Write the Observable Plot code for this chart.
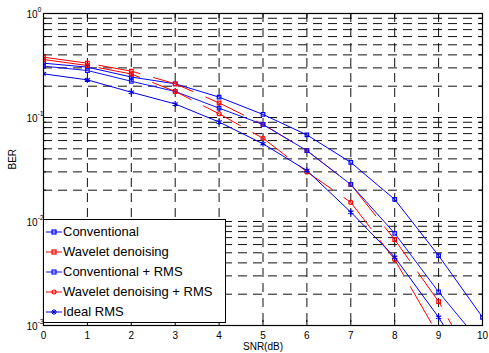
<!DOCTYPE html>
<html>
<head>
<meta charset="utf-8">
<script src="https://cdn.jsdelivr.net/npm/d3@7"></script>
<script src="https://cdn.jsdelivr.net/npm/@observablehq/plot@0.6"></script>
<style>
  html, body { margin: 0; padding: 0; background: white; }
  #wrap { position: relative; width: 489px; height: 353px; font-family: 'Liberation Sans', Arial, sans-serif; }
  #legend { position: absolute; left: 43px; top: 219px; width: 181px; height: 100px;
            border: 1.5px solid #000; background: #fff; padding-top: 2px; box-sizing: content-box; }
  .row { height: 20px; line-height: 20px; font-size: 13px; color: #000; white-space: nowrap; display: flex; align-items: center; }
  .row svg { margin-left: 2px; margin-right: 1px; flex: none; }
</style>
</head>
<body>
<div id="wrap"></div>
<script>
// ---- data ----
const snr = [0, 1, 2, 3, 4, 5, 6, 7, 8, 9, 10];
const conventional    = [0.333, 0.305, 0.245, 0.211, 0.157, 0.107, 0.068, 0.037, 0.0163, 0.0047, 0.0012];
const wavelet         = [0.380, 0.333, 0.279, 0.211, 0.138, 0.0857, 0.048, 0.0227, 0.0067, 0.0017, 0.0003];
const conventionalRMS = [0.312, 0.283, 0.223, 0.178, 0.123, 0.0857, 0.048, 0.0227, 0.0077, 0.0021, 0.00065];
const waveletRMS      = [0.361, 0.316, 0.262, 0.178, 0.1086, 0.0632, 0.030, 0.0153, 0.0043, 0.0008, 0.00012];
const idealRMS        = [0.263, 0.230, 0.175, 0.135, 0.0905, 0.0558, 0.0309, 0.0123, 0.00454, 0.0012, 0.00025];

const seriesNames = ["Conventional", "Wavelet denoising", "Conventional + RMS", "Wavelet denoising + RMS", "Ideal RMS"];
const xTicks = [0, 1, 2, 3, 4, 5, 6, 7, 8, 9, 10];
const yDecades = [1e-3, 1e-2, 1e-1, 1];
const xLabel = "SNR(dB)";
const yLabel = "BER";

// ---- styles ----
const seriesValues = [conventional, wavelet, conventionalRMS, waveletRMS, idealRMS];
const styles = [
  {color: "#0000ff", dash: null, symbol: "square", r: 2},
  {color: "#ff0000", dash: "42,14", symbol: "square", r: 2},
  {color: "#1010ff", dash: null, symbol: "square", r: 2},
  {color: "#ff0000", dash: "42,14", symbol: "circle", r: 2},
  {color: "#0000e0", dash: null, symbol: "asterisk", r: 2.8}
];

const rows = seriesValues.flatMap((vals, i) => snr.map((x, j) => ({series: seriesNames[i], snr: x, ber: vals[j]})));

const yMinor = [];
for (let e = -3; e < 0; e++) for (let k = 1; k <= 9; k++) yMinor.push(k * Math.pow(10, e));
yMinor.push(1);

const W = 489, H = 353, mL = 43, mR = 7, mT = 13, mB = 28;
const fw = W - mL - mR, fh = H - mT - mB;

const gridStyle = {stroke: "#111", strokeOpacity: 1, strokeWidth: 1, strokeDasharray: "9,6"};

const marks = [
  Plot.gridX(xTicks, gridStyle),
  Plot.gridY(yMinor, gridStyle),
  // inward ticks
  Plot.tickX(xTicks, {x: d => d, insetBottom: fh - 5, stroke: "#000"}),
  Plot.tickX(xTicks, {x: d => d, insetTop: fh - 5, stroke: "#000"}),
  Plot.tickY(yDecades, {y: d => d, insetRight: fw - 5, stroke: "#000"}),
  Plot.tickY(yDecades, {y: d => d, insetLeft: fw - 5, stroke: "#000"}),
  Plot.tickY(yMinor, {y: d => d, insetRight: fw - 3, stroke: "#000"}),
  Plot.tickY(yMinor, {y: d => d, insetLeft: fw - 3, stroke: "#000"}),
];

seriesNames.forEach((name, i) => {
  const st = styles[i];
  const data = rows.filter(d => d.series === name);
  marks.push(Plot.line(data, {x: "snr", y: "ber", stroke: st.color, strokeWidth: 1,
    strokeDasharray: st.dash || undefined, clip: true}));
  marks.push(Plot.dot(data, {x: "snr", y: "ber", stroke: st.color, strokeWidth: 1.2, fill: "none",
    symbol: st.symbol, r: st.r, clip: true}));
});

marks.push(
  Plot.frame({stroke: "#000", strokeWidth: 1.2}),
  // x tick labels
  Plot.text(xTicks, {x: d => d, frameAnchor: "bottom", dy: 10, text: d => String(d), lineAnchor: "middle", fontSize: 10, fill: "#000"}),
  // y tick labels: base and superscript exponent
  Plot.text(yDecades, {y: d => d, frameAnchor: "left", dx: -6, dy: 1, textAnchor: "end", text: () => "10", fontSize: 10, fill: "#000"}),
  Plot.text(yDecades, {y: d => d, frameAnchor: "left", dx: -6, dy: -4, textAnchor: "start",
    text: d => String(Math.round(Math.log10(d))), fontSize: 7, fill: "#000"}),
  // axis labels
  Plot.text([xLabel], {frameAnchor: "bottom", dy: 21, text: d => d, lineAnchor: "middle", fontSize: 10, fill: "#000"}),
  Plot.text([yLabel], {frameAnchor: "left", dx: -31, rotate: -90, text: d => d, lineAnchor: "middle", fontSize: 10, fill: "#000"})
);

const chart = Plot.plot({
  width: W, height: H,
  marginLeft: mL, marginRight: mR, marginTop: mT, marginBottom: mB,
  style: {fontFamily: "'Liberation Sans', Arial, sans-serif", fontSize: "10px", background: "white", color: "black"},
  x: {domain: [0, 10], axis: null},
  y: {type: "log", domain: [1e-3, 1], axis: null},
  marks
});

const wrap = document.getElementById("wrap");
wrap.appendChild(chart);

// ---- legend (HTML overlay) ----
const legend = document.createElement("div");
legend.id = "legend";
const symbolSvg = (st) => {
  const c = st.color;
  let m = "";
  if (st.symbol === "square") m = `<rect x="6" y="3" width="4" height="4" fill="none" stroke="${c}" stroke-width="1.2"/>`;
  else if (st.symbol === "circle") m = `<circle cx="8" cy="5" r="2" fill="none" stroke="${c}" stroke-width="1.2"/>`;
  else m = `<path d="M8,2V8M5,5H11M6,3L10,7M10,3L6,7" stroke="${c}" stroke-width="1"/>`;
  return `<svg width="16" height="10"><line x1="0" y1="5" x2="16" y2="5" stroke="${c}" stroke-width="1"/>${m}</svg>`;
};
seriesNames.forEach((name, i) => {
  const row = document.createElement("div");
  row.className = "row";
  row.innerHTML = symbolSvg(styles[i]) + `<span>${name}</span>`;
  legend.appendChild(row);
});
wrap.appendChild(legend);
</script>
</body>
</html>
